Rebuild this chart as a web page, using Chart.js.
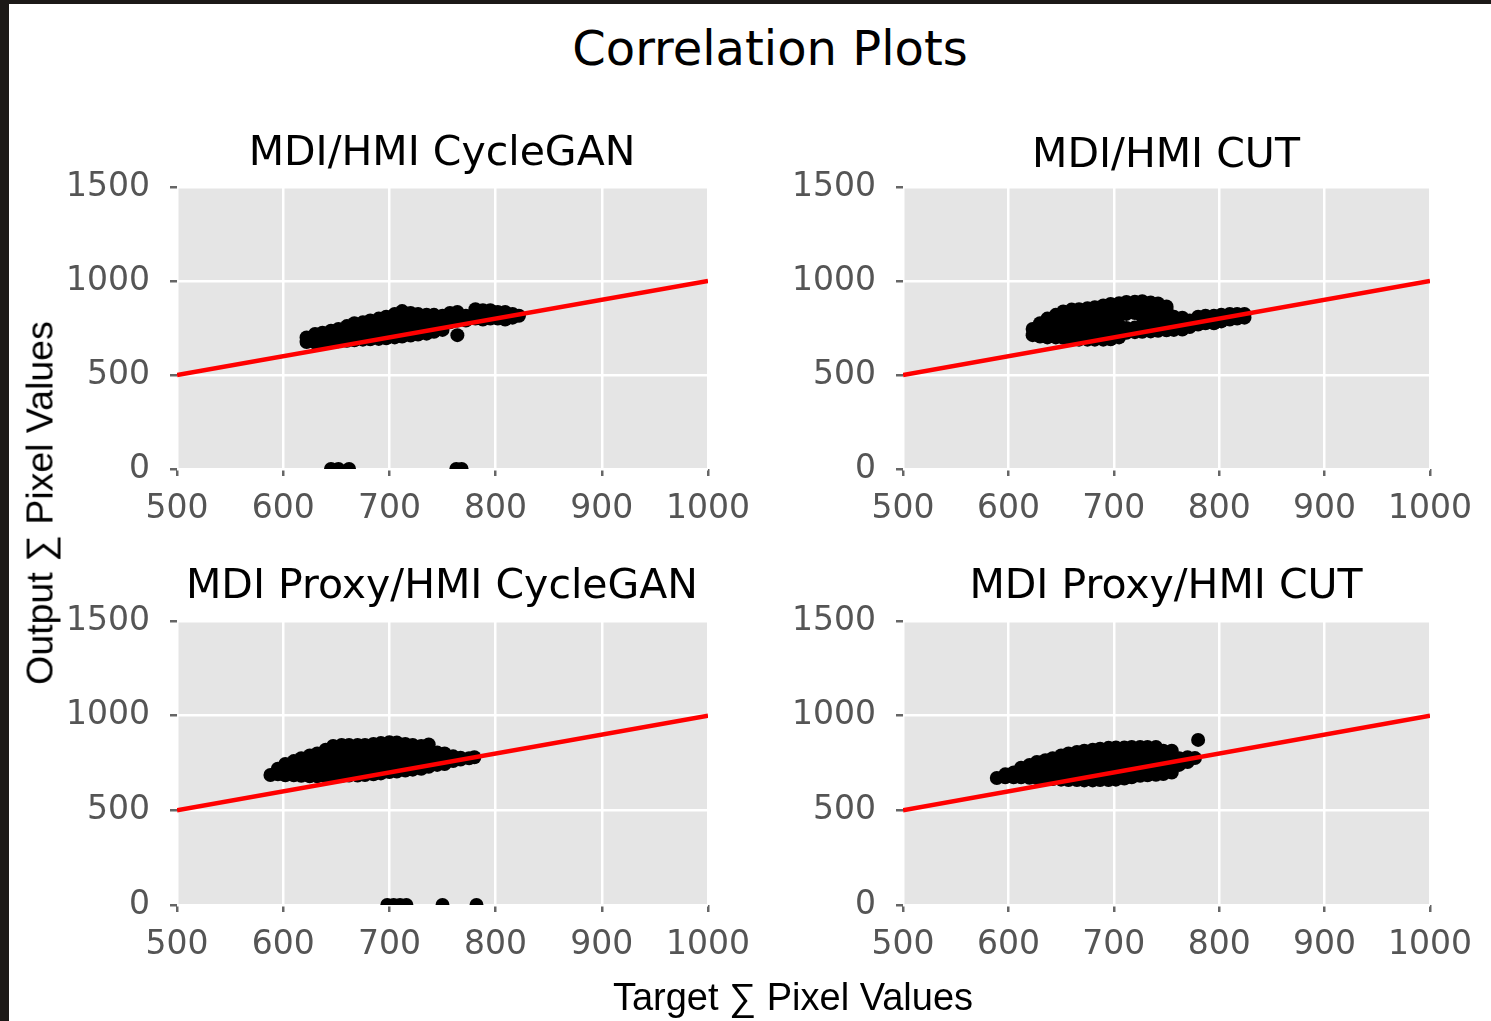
<!DOCTYPE html>
<html>
<head>
<meta charset="utf-8">
<script src="https://cdn.jsdelivr.net/npm/chart.js@4.4.1/dist/chart.umd.min.js"></script>
<style>
  html, body { margin: 0; padding: 0; }
  body { width: 1491px; height: 1021px; background: #1c1917; position: relative; overflow: hidden; }
  #page { position: absolute; left: 9px; top: 4px; right: 0; bottom: 0; background: #fff; }
  .box { position: absolute; }
  .txt { position: absolute; white-space: nowrap; color: #000; }
  #suptitle { font-family: "DejaVu Sans"; font-size: 48px; left: 770px; top: 48px; transform: translate(-50%, -50%); }
  .sub { font-family: "DejaVu Sans"; font-size: 41px; transform: translate(-50%, -50%); }
  #ylab { font-family: "Liberation Sans"; font-size: 37.5px; left: 40px; top: 503px; transform: translate(-50%, -50%) rotate(-90deg); }
  #xlab { font-family: "Liberation Sans"; font-size: 38px; left: 793px; top: 997px; transform: translate(-50%, -50%); }
</style>
</head>
<body>
<div id="page"></div>
<div class="box" id="b1"><canvas id="c1"></canvas></div>
<div class="box" id="b2"><canvas id="c2"></canvas></div>
<div class="box" id="b3"><canvas id="c3"></canvas></div>
<div class="box" id="b4"><canvas id="c4"></canvas></div>
<div class="txt" id="suptitle">Correlation Plots</div>
<div class="txt sub" style="left:442px; top:151px;">MDI/HMI CycleGAN</div>
<div class="txt sub" style="left:1166px; top:153px;">MDI/HMI CUT</div>
<div class="txt sub" style="left:442px; top:584px;">MDI Proxy/HMI CycleGAN</div>
<div class="txt sub" style="left:1166px; top:584px;">MDI Proxy/HMI CUT</div>
<div class="txt" id="ylab">Output ∑ Pixel Values</div>
<div class="txt" id="xlab">Target ∑ Pixel Values</div>
<script>
// tick values
const xTicks = [500, 600, 700, 800, 900, 1000];
const yTicks = [0, 500, 1000, 1500];
// identity line y = x
const refLine = [[500, 500], [1000, 1000]];

// scatter, one entry per target column: [target, [outputs...]]
// MDI/HMI CycleGAN
const mdiCyclegan = [
  [622,[675,700]], [630,[672,700,718]], [637,[675,700,725]], [645,[678,705,735]],
  [652,[680,710,745]], [660,[682,715,750,760]], [667,[685,720,755,775]], [675,[688,725,760,780]],
  [682,[690,730,765,790]], [690,[692,735,770,800]], [697,[695,740,780,810]], [705,[700,745,790,825]],
  [712,[705,750,790,840]], [720,[710,755,790,830]], [727,[715,760,795,825]], [735,[720,765,800,820]],
  [742,[730,770,805,820]], [750,[740,775,815]], [757,[780,805,830]], [764,[712,790,835]],
  [772,[790,815]], [781,[800,850]], [788,[795,845]], [795,[800,845]], [802,[800,835]],
  [809,[795,835]], [816,[805,825]], [822,[815]],
  [645,[0]], [652,[0]], [662,[0]], [763,[0]], [768,[0]]
];

// MDI/HMI CUT
const mdiCut = [
  [623,[712,745]], [630,[705,740,775]], [637,[700,740,780,800]], [645,[700,740,780,820]],
  [652,[698,735,775,815,838]], [660,[690,730,770,810,848]], [667,[688,725,765,805,850]],
  [675,[688,725,765,805,855]], [682,[688,728,768,808,860]], [690,[688,728,768,808,848,870]],
  [697,[690,730,770,810,850,878]], [705,[700,735,765,820,855,882]], [712,[725,750,825,860,888]],
  [720,[728,752,830,865,890]], [727,[730,755,810,850,892]], [735,[732,765,800,840,885]],
  [742,[735,770,805,845,880]], [750,[738,775,810,850,865]], [757,[740,780,810]], [765,[742,775,805]],
  [772,[755,790]], [780,[768,810]], [787,[775,815]], [795,[775,815]], [802,[785,820]],
  [810,[795,825]], [817,[800,825]], [824,[805,825]]
];

// MDI Proxy/HMI CycleGAN
const proxyCyclegan = [
  [588,[687]], [595,[690,720]], [602,[685,720,745]], [610,[685,720,760]], [617,[682,720,760,775]],
  [625,[680,720,760,790]], [632,[680,720,760,800]], [640,[680,720,760,800,820]],
  [647,[682,720,760,800,840]], [655,[682,722,762,802,845]], [662,[684,724,764,804,845]],
  [670,[684,724,764,804,845]], [677,[686,726,766,806,845]], [685,[690,730,770,810,850]],
  [692,[695,735,775,815,855]], [700,[702,740,780,820,860]], [707,[705,745,785,825,858]],
  [715,[710,750,790,830,850]], [722,[715,755,795,835,845]], [730,[720,760,800,840]],
  [737,[730,765,805,848]], [745,[740,775,805]], [752,[745,780,800]], [760,[760,785]],
  [767,[768,778]], [775,[775]], [780,[780]],
  [698,[0]], [704,[0]], [710,[0]], [716,[0]], [750,[0]], [782,[0]]
];

// MDI Proxy/HMI CUT
const proxyCut = [
  [589,[671]], [597,[675,690]], [605,[675,700]], [612,[675,705,725]], [620,[672,705,740]],
  [627,[670,705,740,755]], [635,[665,700,735,765]], [642,[665,700,735,770,775]],
  [650,[662,700,740,780,790]], [657,[660,700,740,780,800]], [665,[660,700,740,780,808]],
  [672,[658,695,735,775,815]], [680,[658,695,735,775,820]], [687,[660,700,740,780,825]],
  [695,[660,700,740,780,830]], [702,[662,702,742,782,832]], [710,[668,705,745,785,832]],
  [717,[675,710,750,790,835]], [725,[682,720,760,800,835]], [732,[685,725,765,805,835]],
  [740,[688,730,770,810,835]], [747,[692,735,775,815]], [755,[700,740,780,815]],
  [762,[740,775]], [770,[755,780]], [777,[776]], [780,[872]]
];

const plotBg = {
  id: 'plotBg',
  beforeDraw(chart) {
    const a = chart.chartArea, ctx = chart.ctx;
    ctx.save();
    ctx.fillStyle = '#e5e5e5';
    ctx.fillRect(a.left, a.top, a.right - a.left, a.bottom - a.top);
    ctx.restore();
  }
};

const padL = 10, padT = 45, padR = 60, padB = 10, yW = 110, xH = 70;

function panel(n, left, top, w, h, cols) {
  const box = document.getElementById('b' + n);
  box.style.left = (left - padL - yW) + 'px';
  box.style.top = (top - padT) + 'px';
  box.style.width = (w + padL + yW + padR) + 'px';
  box.style.height = (h + padT + xH + padB) + 'px';

  const pts = [];
  cols.forEach(c => c[1].forEach(y => pts.push({ x: c[0], y: y })));

  const tickFont = { family: 'DejaVu Sans', size: 33 };
  new Chart(document.getElementById('c' + n), {
    data: {
      datasets: [
        {
          type: 'line',
          data: refLine.map(p => ({ x: p[0], y: p[1] })),
          borderColor: '#ff0000',
          borderWidth: 4.5,
          pointRadius: 0,
          order: 0
        },
        {
          type: 'scatter',
          data: pts,
          backgroundColor: '#000',
          borderWidth: 0,
          pointRadius: 7,
          order: 1
        }
      ]
    },
    options: {
      responsive: true,
      maintainAspectRatio: false,
      animation: false,
      layout: { padding: { left: padL, top: padT, right: padR, bottom: padB } },
      plugins: { legend: { display: false }, tooltip: { enabled: false } },
      scales: {
        x: {
          type: 'linear', min: 500, max: 1000,
          afterBuildTicks: s => { s.ticks = xTicks.map(v => ({ value: v })); },
          afterFit: s => { s.height = xH; },
          grid: { color: '#fff', lineWidth: 2.5, tickColor: '#666', tickLength: 7, drawTicks: true },
          border: { display: false },
          ticks: { color: '#555', font: tickFont, padding: 14, maxRotation: 0, callback: v => String(v) }
        },
        y: {
          type: 'linear', min: 0, max: 1500,
          afterBuildTicks: s => { s.ticks = yTicks.map(v => ({ value: v })); },
          afterFit: s => { s.width = yW; },
          grid: { color: '#fff', lineWidth: 2.5, tickColor: '#666', tickLength: 7, drawTicks: true },
          border: { display: false },
          ticks: { color: '#555', font: tickFont, padding: 20, callback: v => String(v) }
        }
      }
    },
    plugins: [plotBg]
  });
}

panel(1, 177, 187, 531, 282, mdiCyclegan);
panel(2, 903, 187, 527, 282, mdiCut);
panel(3, 177, 621, 531, 284, proxyCyclegan);
panel(4, 903, 621, 527, 284, proxyCut);
</script>
</body>
</html>
